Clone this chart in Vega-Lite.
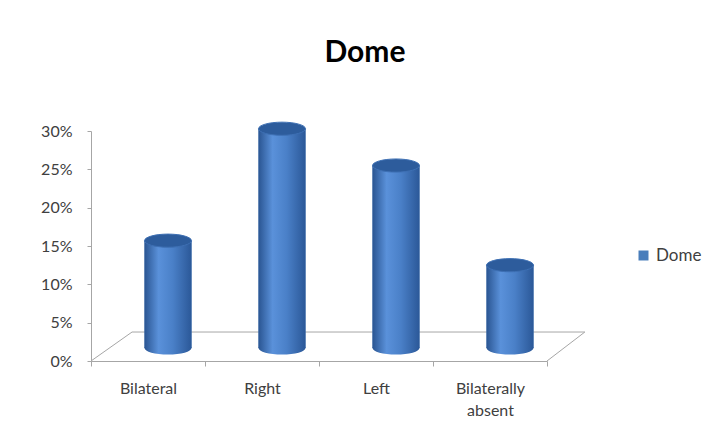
{
  "$schema": "https://vega.github.io/schema/vega-lite/v6.json",
  "autosize": "none",
  "width": 456,
  "height": 230,
  "padding": {"left": 91, "top": 131, "right": 165, "bottom": 73},
  "background": "white",
  "config": {"view": {"stroke": null}, "font": "Lato"},
  "title": {"text": "Dome", "fontSize": 30, "fontWeight": "bold", "font": "Lato", "color": "#000000", "anchor": "middle", "frame": "group", "dx": 46, "offset": 52},
  "datasets": {
    "bars": [
      {"position": "Bilateral", "share": 0.14, "series": "Dome"},
      {"position": "Right", "share": 0.286, "series": "Dome"},
      {"position": "Left", "share": 0.238, "series": "Dome"},
      {"position": "Bilaterally absent", "share": 0.108, "series": "Dome"}
    ],
    "floor": [
      {"i": 0, "fx": 0, "fy": 0},
      {"i": 1, "fx": 0.09, "fy": 0.0378},
      {"i": 2, "fx": 1.083, "fy": 0.0378},
      {"i": 3, "fx": 1.0, "fy": 0}
    ]
  },
  "resolve": {"scale": {"x": "independent"}, "axis": {"x": "independent"}},
  "layer": [
    {
      "data": {"name": "floor"},
      "mark": {"type": "line", "stroke": "#A6A6A6", "strokeWidth": 1, "clip": false},
      "encoding": {
        "x": {"field": "fx", "type": "quantitative", "scale": {"domain": [0, 1], "nice": false, "zero": false}, "axis": null},
        "y": {
          "field": "fy", "type": "quantitative",
          "scale": {"domain": [0, 0.3], "nice": false},
          "axis": {
            "title": null, "format": ".0%", "values": [0, 0.05, 0.1, 0.15, 0.2, 0.25, 0.3],
            "grid": false, "labelFont": "Lato", "labelFontSize": 16, "labelColor": "#404040",
            "tickSize": 4, "labelPadding": 15, "tickColor": "#A6A6A6", "domainColor": "#A6A6A6"
          }
        },
        "order": {"field": "i"}
      }
    },
    {
      "data": {"name": "bars"},
      "encoding": {
        "x": {
          "field": "position", "type": "nominal", "sort": null,
          "scale": {"paddingInner": 0, "paddingOuter": 0},
          "axis": {
            "title": null, "labelAngle": 0, "labelFont": "Lato", "labelFontSize": 16, "labelColor": "#404040",
            "labelExpr": "datum.label == 'Bilaterally absent' ? ['Bilaterally', 'absent'] : datum.label",
            "labelLineHeight": 22, "labelPadding": 14, "tickSize": 5, "tickColor": "#A6A6A6", "domainColor": "#A6A6A6",
            "tickBand": "extent"
          }
        },
        "y": {
          "field": "share", "type": "quantitative",
          "scale": {"domain": [0, 0.3], "nice": false},
          "axis": {
            "title": null, "format": ".0%", "values": [0, 0.05, 0.1, 0.15, 0.2, 0.25, 0.3],
            "grid": false, "labelFont": "Lato", "labelFontSize": 16, "labelColor": "#404040",
            "tickSize": 4, "labelPadding": 15, "tickColor": "#A6A6A6", "domainColor": "#A6A6A6"
          }
        }
      },
      "layer": [
        {
          "mark": {"type": "bar", "width": 47, "xOffset": 20, "yOffset": -13},
          "encoding": {
            "color": {
              "field": "series", "type": "nominal",
              "scale": {"range": ["#4A7EBB"]},
              "legend": {
                "title": null, "orient": "none", "legendX": 544, "legendY": 116,
                "symbolType": "square", "symbolSize": 100, "symbolStrokeWidth": 0,
                "labelFont": "Lato", "labelFontSize": 17, "labelColor": "#404040", "labelOffset": 4
              }
            }
          }
        },
        {
          "mark": {
            "type": "bar", "width": 47, "xOffset": 20, "yOffset": -13,
            "fill": {"gradient": "linear", "x1": 0, "x2": 1, "y1": 0, "y2": 0,
              "stops": [
                {"offset": 0, "color": "#2A5592"},
                {"offset": 0.3, "color": "#5A91DA"},
                {"offset": 0.6, "color": "#4A80C8"},
                {"offset": 1, "color": "#2B5898"}
              ]}
          }
        },
        {
          "mark": {
            "type": "point", "filled": true, "opacity": 1, "xOffset": 20, "yOffset": -13, "size": 2209,
            "shape": "M-1,0A1,0.28,0,1,1,1,0A1,0.28,0,1,1,-1,0Z",
            "fill": {"gradient": "linear", "x1": 0, "x2": 1, "y1": 0, "y2": 0,
              "stops": [
                {"offset": 0, "color": "#2A5592"},
                {"offset": 0.3, "color": "#5A91DA"},
                {"offset": 0.6, "color": "#4A80C8"},
                {"offset": 1, "color": "#2B5898"}
              ]}
          },
          "encoding": {"y": {"datum": 0, "type": "quantitative"}}
        },
        {
          "mark": {
            "type": "point", "filled": true, "opacity": 1, "xOffset": 20, "yOffset": -13, "size": 2209,
            "shape": "M-1,0A1,0.28,0,1,1,1,0A1,0.28,0,1,1,-1,0Z",
            "fill": "#2D5C9C", "stroke": "#3E70B4", "strokeWidth": 1
          }
        }
      ]
    }
  ]
}
